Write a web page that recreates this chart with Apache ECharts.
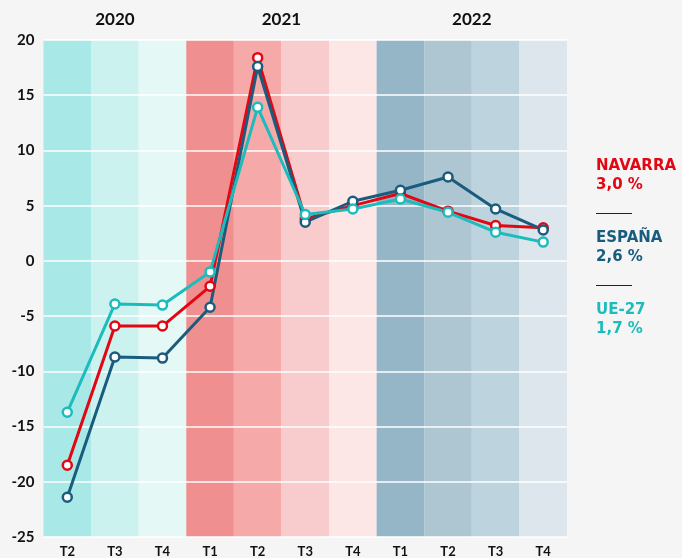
<!DOCTYPE html>
<html><head><meta charset="utf-8">
<script src="https://cdn.jsdelivr.net/npm/echarts@6/dist/echarts.min.js"></script>
<style>html,body{margin:0;padding:0;background:#f5f5f5;}#c{width:682px;height:558px;}</style>
</head><body><div id="c"></div>
<script>
var categories = ['T2','T3','T4','T1','T2','T3','T4','T1','T2','T3','T4'];
var years = ['2020','2021','2022'];
var yearSpans = [[0,2],[3,6],[7,10]];
var navarra = [-18.5,-5.9,-5.9,-2.3,18.4,3.8,5.0,6.1,4.5,3.2,3.0];
var espana  = [-21.4,-8.7,-8.8,-4.2,17.6,3.5,5.4,6.4,7.6,4.7,2.8];
var ue27    = [-13.7,-3.9,-4.0,-1.0,13.9,4.2,4.7,5.6,4.4,2.6,1.7];
var bandColors = ['#a8e8e6','#ccf2f0','#e4f8f6','#f08f8f','#f5a9a9','#f8cccc','#fce6e6','#95b6c6','#adc6d2','#bdd3dd','#dce6ec'];
var legendItems = [['NAVARRA','3,0 %','#e30613'],['ESPAÑA','2,6 %','#1a5c7d'],['UE-27','1,7 %','#1cbcbc']];
var yMin = -25, yMax = 20;

var FONT = 'Lato';
var LFONT = '"DejaVu Sans"';
var chart = echarts.init(document.getElementById('c'));
function lineSeries(name, data, color){
  return {name:name,type:'line',data:data,z:5,symbol:'circle',symbolSize:9,
    lineStyle:{color:color,width:3},
    itemStyle:{color:'#ffffff',borderColor:color,borderWidth:2.5},
    emphasis:{disabled:true}};
}
var option = {
  backgroundColor:'#f5f5f5',
  animation:false,
  grid:{left:43.5,right:115,top:40,bottom:20},
  xAxis:{type:'category',data:categories,boundaryGap:true,
    axisLine:{show:false},axisTick:{show:false},
    axisLabel:{color:'#111',fontFamily:FONT,fontWeight:'bold',fontSize:13,margin:8}},
  yAxis:{type:'value',min:yMin,max:yMax,interval:5,z:3,
    axisLine:{show:false},axisTick:{show:false},
    splitLine:{show:true,lineStyle:{color:'#ffffff',width:1.5}},
    axisLabel:{color:'#111',fontFamily:FONT,fontWeight:'bold',fontSize:15,margin:9}},
  series:[
    {type:'bar',stack:'bg',barWidth:'100%',z:1,silent:true,
      data:categories.map(function(c,i){return {value:yMax,itemStyle:{color:bandColors[i]}};})},
    {type:'bar',stack:'bg',barWidth:'100%',z:1,silent:true,
      data:categories.map(function(c,i){return {value:yMin,itemStyle:{color:bandColors[i]}};})},
    lineSeries('NAVARRA',navarra,'#e30613'),
    lineSeries('ESPAÑA',espana,'#1a5c7d'),
    lineSeries('UE-27',ue27,'#1cbcbc')
  ]
};
chart.setOption(option);

var g = [];
years.forEach(function(y,i){
  var x0 = chart.convertToPixel({xAxisIndex:0},yearSpans[i][0]);
  var x1 = chart.convertToPixel({xAxisIndex:0},yearSpans[i][1]);
  g.push({type:'text',x:(x0+x1)/2,y:19.5,style:{text:y,fill:'#111',font:'bold 17px '+FONT,align:'center',verticalAlign:'middle'}});
});
var ly = 166;
legendItems.forEach(function(it,i){
  g.push({type:'text',x:596,y:ly,style:{text:it[0],fill:it[2],font:'bold 15px '+LFONT,verticalAlign:'middle'}});
  g.push({type:'text',x:596,y:ly+19,style:{text:it[1],fill:it[2],font:'bold 15px '+LFONT,verticalAlign:'middle'}});
  if(i<legendItems.length-1){
    g.push({type:'line',shape:{x1:596,y1:ly+47.5,x2:632,y2:ly+47.5},style:{stroke:'#222',lineWidth:1}});
  }
  ly += 72;
});
chart.setOption({graphic:g});
</script></body></html>
